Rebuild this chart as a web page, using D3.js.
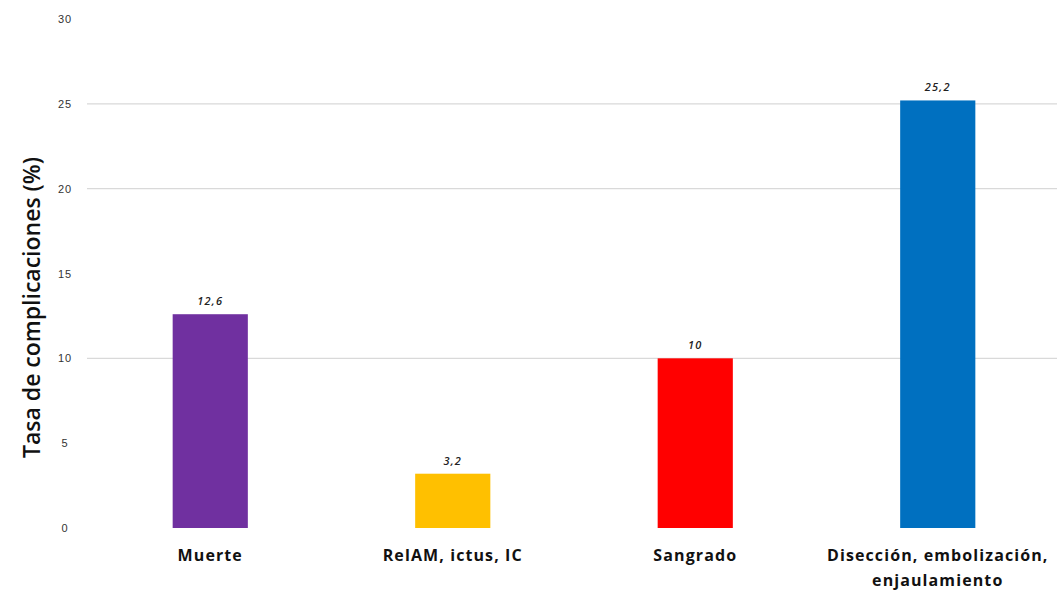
<!DOCTYPE html>
<html>
<head>
<meta charset="utf-8">
<script src="https://cdn.jsdelivr.net/npm/d3@7"></script>
<style>
  body { margin: 0; background: #fff; }
  svg { display: block; font-family: "Open Sans", "DejaVu Sans", sans-serif; }
</style>
</head>
<body>
<svg id="chart"></svg>
<script>
// data
const categories = ["Muerte", "RelAM, ictus, IC", "Sangrado", "Disección, embolización, enjaulamiento"];
const catLines = [["Muerte"], ["RelAM, ictus, IC"], ["Sangrado"], ["Disección, embolización,", "enjaulamiento"]];
const values = [12.6, 3.2, 10, 25.2];
const valueLabels = ["12,6", "3,2", "10", "25,2"];
const barColors = ["#7030A0", "#FFC000", "#FF0000", "#0070C0"];
const yTicks = [0, 5, 10, 15, 20, 25, 30];
const gridTicks = [10, 20, 25];

const width = 1057, height = 596;
const margin = { top: 19, right: -2, bottom: 68, left: 89 };

const svg = d3.select("#chart")
  .attr("width", width)
  .attr("height", height);

const innerW = width - margin.left - margin.right;
const innerH = height - margin.top - margin.bottom;

const chart = svg.append("g")
  .attr("transform", `translate(${margin.left},${margin.top})`);

const x = d3.scaleBand()
  .domain(categories)
  .range([0, innerW])
  .paddingInner(0.69)
  .paddingOuter(0.345);

const y = d3.scaleLinear()
  .domain([0, 30])
  .range([innerH, 0]);

// gridlines (only the ones visible in the original)
chart.append("g")
  .selectAll("line")
  .data(gridTicks)
  .join("line")
    .attr("x1", -2)
    .attr("x2", innerW)
    .attr("y1", d => y(d))
    .attr("y2", d => y(d))
    .attr("stroke", "#d9d9d9")
    .attr("stroke-width", 1.2);

// y axis labels
const yAxis = d3.axisLeft(y).tickValues(yTicks).tickSize(0).tickPadding(20);
chart.append("g")
  .attr("class", "yAxis")
  .call(yAxis)
  .call(g => g.select(".domain").remove())
  .call(g => g.selectAll("text")
    .attr("fill", "#333")
    .style("font-size", "11px")
    .style("letter-spacing", "1px")
    .attr("text-anchor", "middle")
    .attr("dx", "-4"));

// bars
chart.selectAll(".bar")
  .data(values)
  .join("rect")
    .attr("class", "bar")
    .attr("x", (d, i) => x(categories[i]))
    .attr("y", d => y(d))
    .attr("width", x.bandwidth())
    .attr("height", d => y(0) - y(d))
    .attr("fill", (d, i) => barColors[i]);

// value labels
chart.selectAll(".val")
  .data(values)
  .join("text")
    .attr("class", "val")
    .attr("x", (d, i) => x(categories[i]) + x.bandwidth() / 2)
    .attr("y", d => y(d) - 9)
    .attr("text-anchor", "middle")
    .style("font-size", "11px")
    .style("font-style", "italic")
    .style("font-weight", "600")
    .style("letter-spacing", "1.2px")
    .attr("fill", "#222")
    .text((d, i) => valueLabels[i]);

// category labels
const cat = chart.selectAll(".cat")
  .data(categories)
  .join("text")
    .attr("class", "cat")
    .attr("x", d => x(d) + x.bandwidth() / 2)
    .attr("y", innerH + 33)
    .attr("text-anchor", "middle")
    .style("font-size", "16px")
    .style("font-weight", "bold")
    .style("letter-spacing", "1.1px")
    .attr("fill", "#111");

cat.selectAll("tspan")
  .data((d, i) => catLines[i])
  .join("tspan")
    .attr("x", function() { return d3.select(this.parentNode).attr("x"); })
    .attr("dy", (d, i) => i === 0 ? 0 : 25)
    .text(d => d);

// y title
svg.append("text")
  .attr("transform", "rotate(-90)")
  .attr("x", -(margin.top + innerH / 2) - 34)
  .attr("y", 40)
  .attr("text-anchor", "middle")
  .style("font-size", "23px")
  .style("font-weight", "600")
  .attr("fill", "#111")
  .text("Tasa de complicaciones (%)");
</script>
</body>
</html>
